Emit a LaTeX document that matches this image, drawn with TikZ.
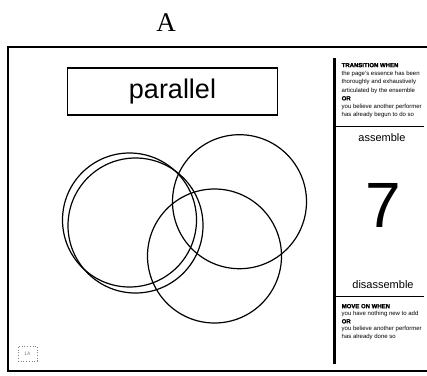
\documentclass[tikz,border=0pt]{standalone}
\usepackage{fontspec}
\setmainfont{Liberation Serif}
\setsansfont{Liberation Sans}
\newfontfamily\heavyfont{Liberation Sans}[BoldFeatures={FakeBold=1.8}]
\newcommand{\hvy}[1]{{\heavyfont\bfseries #1}}
\begin{document}
\begin{tikzpicture}[x=1pt,y=-1pt,
  ring/.style={draw=black,line width=1.2pt},
  smalltxt/.style={font=\sffamily\fontsize{6}{8.3}\selectfont,anchor=north west,inner sep=0pt,align=left},
  lowtxt/.style={font=\sffamily\fontsize{6}{7.6}\selectfont,anchor=north west,inner sep=0pt,align=left},
  divider/.style={line width=0.9pt},
]
\useasboundingbox (0,0) rectangle (427,375);
% title
\node[font=\fontsize{27}{27}\selectfont,inner sep=0pt] (title) at (166,23) {A};
% frame
\draw[line width=2pt] (430,47) -- (8,47) -- (8,371) -- (430,371);
% parallel box
\node[draw,line width=1.2pt,minimum width=210pt,minimum height=47pt,inner sep=0pt,
      font=\sffamily\fontsize{27}{27}\selectfont] (par) at (172.5,91.4) {parallel};
% circles
\draw[ring] (129.5,220) circle[radius=67];
\draw[ring] (135.5,225.5) circle[radius=67.5];
\draw[ring] (239.5,201.7) circle[radius=67];
\draw[ring] (214.5,256) circle[radius=67];
% right column bar
\coordinate (bartop) at (334,58);
\coordinate (barbot) at (334,364);
\draw[line width=3pt] (bartop) -- (barbot);
\coordinate (d1a) at (335.5,126);
\coordinate (d1b) at (424,126);
\coordinate (d2a) at (335.5,296);
\coordinate (d2b) at (424,296);
\draw[divider] (d1a) -- (d1b);
\draw[divider] (d2a) -- (d2b);
% upper text
\node[smalltxt] (trans) at (341.5,62.8) {\hvy{TRANSITION WHEN}\\
the page's essence has been\\
thoroughly and exhaustively\\
articulated by the ensemble\\
\hvy{OR}\\
you believe another performer\\
has already begun to do so};
% assemble / 7 / disassemble
\node[font=\sffamily\fontsize{11}{11}\selectfont,inner sep=0pt] (asm) at (382,138) {assemble};
\node[font=\sffamily\fontsize{64}{64}\selectfont,inner sep=0pt] (seven) at (383,205) {7};
\node[font=\sffamily\fontsize{11}{11}\selectfont,inner sep=0pt] (dis) at (383,285) {disassemble};
% lower text
\node[lowtxt] (move) at (341.5,303.8) {\hvy{MOVE ON WHEN}\\
you have nothing new to add\\
\hvy{OR}\\
you believe another performer\\
has already done so};
% 1A tag
\node[draw=gray,dotted,line width=0.7pt,minimum width=19pt,minimum height=15pt,inner sep=0pt,
      text=gray,font=\sffamily\fontsize{5}{5}\selectfont] (tag) at (27.5,353.5) {1A};
\end{tikzpicture}
\end{document}
